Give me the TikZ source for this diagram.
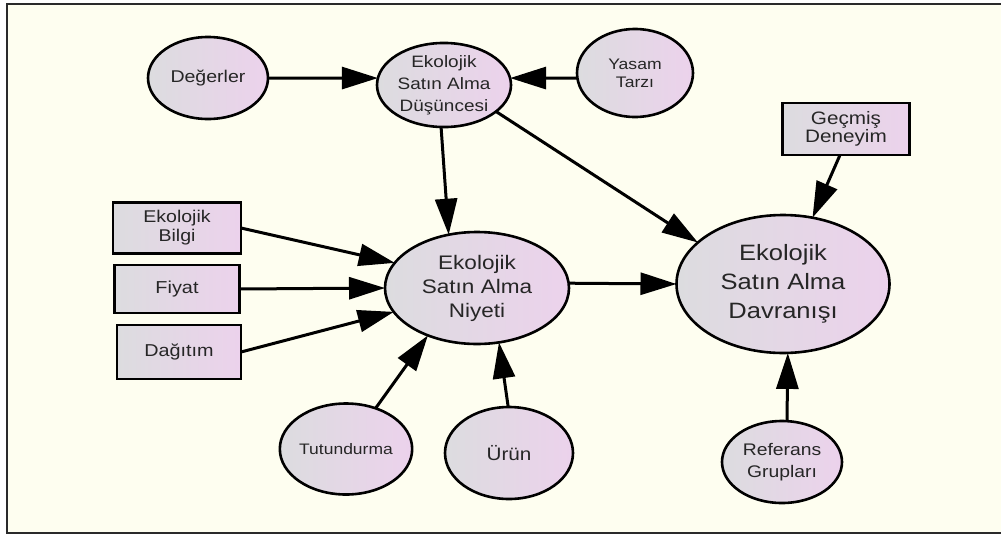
\documentclass[tikz,border=0pt]{standalone}
\usepackage{fontspec}
\setmainfont[FakeStretch=1.15]{Liberation Sans}
\usetikzlibrary{arrows.meta,shapes.geometric}
\definecolor{paper}{HTML}{FEFEF0}
\definecolor{frameline}{HTML}{2A2A2A}
\definecolor{fillL}{HTML}{DCDCDF}
\definecolor{fillR}{HTML}{ECD2EC}
\definecolor{txt}{HTML}{262626}
\tikzset{
  base/.style={draw=black, line width=2.6pt, inner sep=0pt, outer sep=0pt,
    left color=fillL, right color=fillR, text=txt, align=center},
  oval/.style={base, ellipse},
  box/.style={base, rectangle},
  link/.style={line width=3pt, draw=black,
    -{Triangle[length=36pt,width=22pt]}},
}
\newcommand{\fsz}[2]{\fontsize{#1}{#2}\selectfont}
\begin{document}
\begin{tikzpicture}[x=1pt,y=-1pt]
  \useasboundingbox (0,0) rectangle (1001,536);
  \fill[white] (0,0) rectangle (1001,536);
  % frame
  \fill[paper] (7,4) rectangle (1001,533);
  \draw[frameline, line width=2.5pt] (1001,4) -- (7,4) -- (7,533) -- (1001,533);

  % nodes
  \node[oval, minimum width=120pt, minimum height=82pt, font=\fsz{17}{21}] (deg) at (208,78) {Değerler};
  \node[oval, minimum width=134pt, minimum height=84pt, font=\fsz{16.5}{22}] (dus) at (444,85) {Ekolojik\\Satın Alma\\Düşüncesi};
  \node[oval, minimum width=116pt, minimum height=88pt, font=\fsz{15.3}{18}] (yas) at (635,73) {Yasam\\Tarzı};
  \node[box, minimum width=127pt, minimum height=52pt, font=\fsz{18}{18.5}] (gec) at (846,129) {Geçmiş\\Deneyim};
  \node[oval, minimum width=184pt, minimum height=112pt, font=\fsz{19.6}{24}] (niy) at (477,288) {Ekolojik\\Satın Alma\\Niyeti};
  \node[oval, minimum width=213pt, minimum height=138pt, font=\fsz{22.2}{29}] (dav) at (783,284) {Ekolojik\\Satın Alma\\Davranışı};
  \node[box, minimum width=128pt, minimum height=51pt, font=\fsz{17}{19}] (bil) at (177,228) {Ekolojik\\Bilgi};
  \node[box, minimum width=125pt, minimum height=48pt, font=\fsz{17.3}{20}] (fiy) at (177,289) {Fiyat};
  \node[box, minimum width=124pt, minimum height=54pt, font=\fsz{17.2}{20}] (dag) at (179,352) {Dağıtım};
  \node[oval, minimum width=123pt, minimum height=91pt, font=\fsz{15.2}{18}] (tut) at (346,449) {Tutundurma};
  \node[oval, minimum width=128pt, minimum height=92pt, font=\fsz{18}{20}] (urn) at (509,453) {Ürün};
  \node[oval, minimum width=120pt, minimum height=82pt, font=\fsz{16.8}{21.7}] (ref) at (782,462) {Referans\\Grupları};

  % connectors
  \draw[link] (deg.0) -- (dus.174);
  \draw[link] (yas.185) -- (dus.6);
  \draw[link] (dus.-94) -- (niy.118);
  \draw[link] (dus.-27) -- (dav.154);
  \draw[link] (bil.east) -- (niy.163);
  \draw[link] (fiy.east) -- (niy.180);
  \draw[link] (dag.east) -- (niy.196);
  \draw[link] (tut.54) -- (niy.224);
  \draw[link] (urn.91) -- (niy.-68);
  \draw[link] (niy.3) -- (dav.180);
  \draw[link] ([xshift=-6pt]gec.south) -- (dav.66);
  \draw[link] ([xshift=5pt]ref.north) -- (dav.-86);
\end{tikzpicture}
\end{document}
